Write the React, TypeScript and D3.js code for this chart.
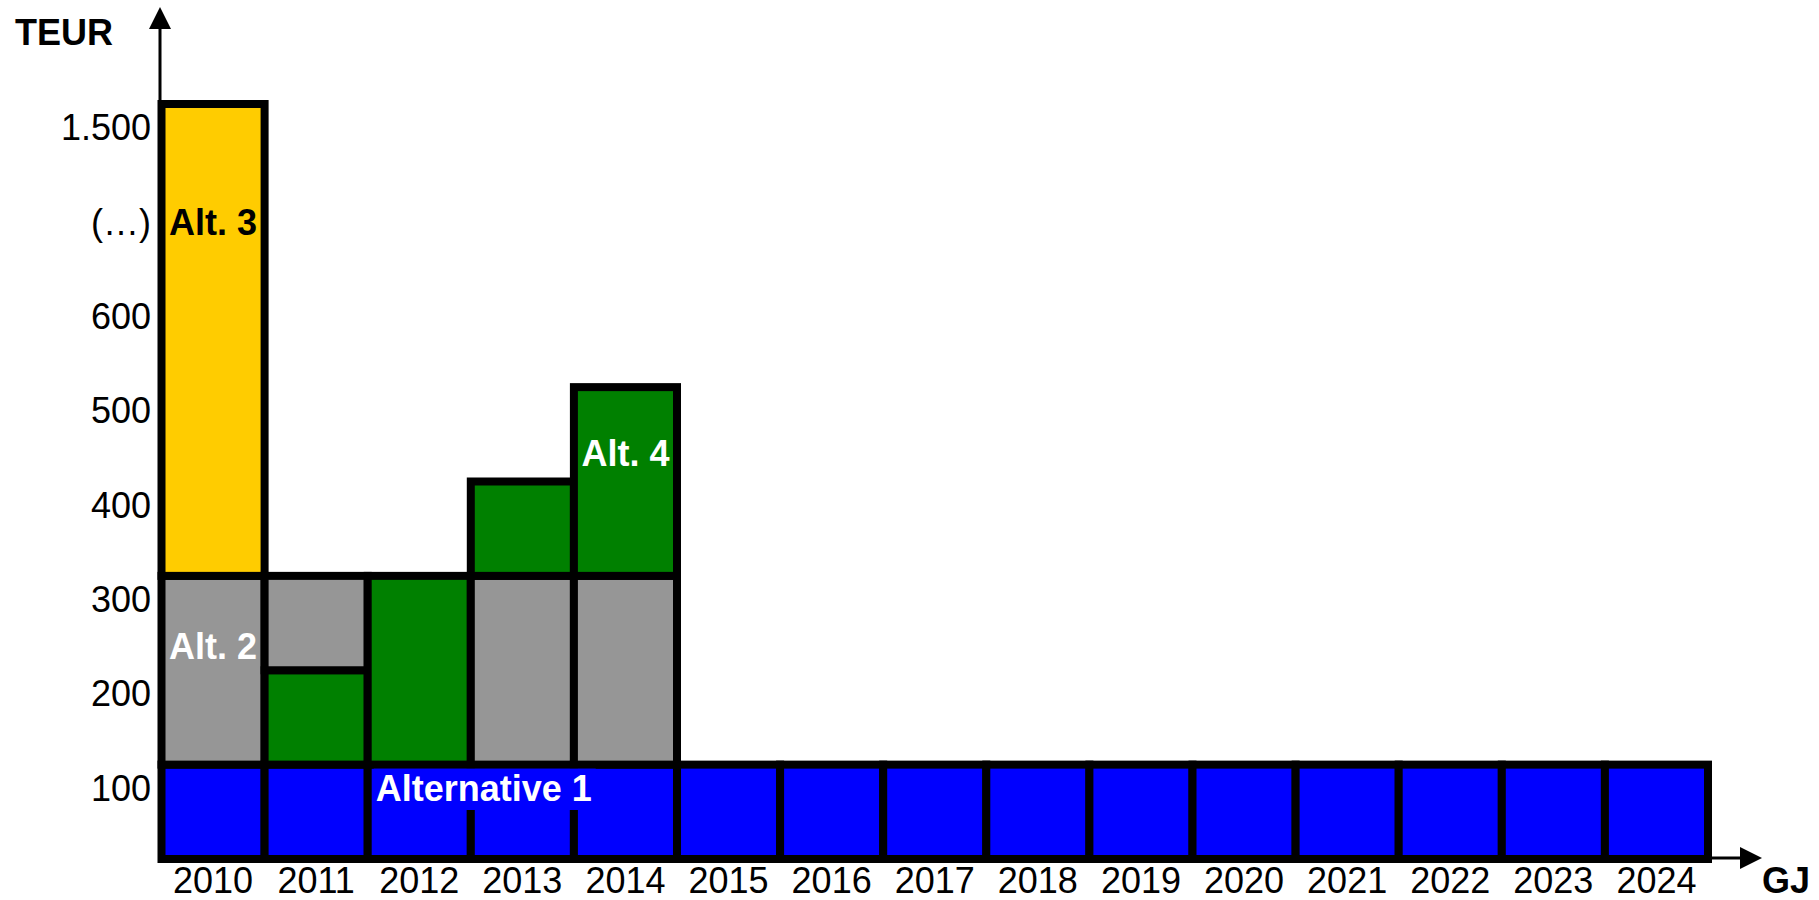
import React from "react";
import * as d3 from "d3";

// years on the x axis
const years = ["2010", "2011", "2012", "2013", "2014", "2015", "2016", "2017", "2018", "2019", "2020", "2021", "2022", "2023", "2024"];

// y axis is broken above 600, values are in axis units (ticks 100..800)
const tickLabels = ["100", "200", "300", "400", "500", "600", "(…)", "1.500"];
const tickValues = [100, 200, 300, 400, 500, 600, 700, 800];
const axisBase = 25;

const alt1 = [100, 100, 100, 100, 100, 100, 100, 100, 100, 100, 100, 100, 100, 100, 100];
const alt2 = [200, 100, 0, 200, 200, 0, 0, 0, 0, 0, 0, 0, 0, 0, 0];
const alt3 = [500, 0, 0, 0, 0, 0, 0, 0, 0, 0, 0, 0, 0, 0, 0];
const alt4 = [0, 100, 200, 100, 200, 0, 0, 0, 0, 0, 0, 0, 0, 0, 0];

// bottom -> top order of the blocks in each year
const stackOrder = [
  ["alt1", "alt2", "alt3"],
  ["alt1", "alt4", "alt2"],
  ["alt1", "alt4"],
  ["alt1", "alt2", "alt4"],
  ["alt1", "alt2", "alt4"],
  ["alt1"], ["alt1"], ["alt1"], ["alt1"], ["alt1"], ["alt1"], ["alt1"], ["alt1"], ["alt1"], ["alt1"],
];

const series: Record<string, number[]> = { alt1, alt2, alt3, alt4 };
const colors: Record<string, string> = {
  alt1: "#0000FF",
  alt2: "#969696",
  alt3: "#FFCC00",
  alt4: "#008000",
};

const font = "'Liberation Sans', Arial, Helvetica, sans-serif";

export default function App() {
  const width = 1819;
  const height = 900;

  const x = d3.scaleBand<string>().domain(years).range([161.5, 1708]).padding(0);
  const y = d3.scaleLinear().domain([axisBase, 825]).range([859, 104]);

  const segments: { year: string; key: string; y0: number; y1: number }[] = [];
  years.forEach((yr, i) => {
    let acc = axisBase;
    stackOrder[i].forEach((k) => {
      const v = series[k][i];
      if (v > 0) {
        segments.push({ year: yr, key: k, y0: acc, y1: acc + v });
        acc += v;
      }
    });
  });

  const bw = x.bandwidth();
  const fs = 36;
  const alt1X = (x("2012") as number) + 8;
  const alt1W = 6.0 * fs;

  return (
    <svg
      width={width}
      height={height}
      style={{ position: "absolute", left: 0, top: 0, background: "#fff" }}
      fontFamily={font}
    >
      {/* axes with arrows */}
      <line x1={160} x2={160} y1={859} y2={27} stroke="#000" strokeWidth={3} />
      <path d="M160,7 L149,29 L171,29 Z" fill="#000" />
      <line x1={160} x2={1742} y1={858} y2={858} stroke="#000" strokeWidth={3} />
      <path d="M1762,858 L1740,847 L1740,869 Z" fill="#000" />

      {/* blocks */}
      {segments.map((s, i) => (
        <rect
          key={i}
          x={x(s.year)}
          y={y(s.y1)}
          width={bw}
          height={y(s.y0) - y(s.y1)}
          fill={colors[s.key]}
          stroke="#000"
          strokeWidth={8}
        />
      ))}

      {/* y tick labels */}
      {tickValues.map((v, i) => (
        <text key={v} x={151} y={y(v)} dy="0.35em" textAnchor="end" fontSize={fs} fill="#000">
          {tickLabels[i]}
        </text>
      ))}

      {/* year labels */}
      {years.map((yr) => (
        <text key={yr} x={(x(yr) as number) + bw / 2} y={893} textAnchor="middle" fontSize={fs} fill="#000">
          {yr}
        </text>
      ))}

      <text x={15} y={45} fontSize={36} fontWeight="bold" fill="#000">TEUR</text>
      <text x={1762} y={893} fontSize={fs} fontWeight="bold" fill="#000">GJ</text>

      {/* series labels */}
      <text x={(x("2010") as number) + bw / 2} y={y(700)} dy="0.35em" textAnchor="middle" fontSize={fs} fontWeight="bold" fill="#000">
        Alt. 3
      </text>
      <text x={(x("2010") as number) + bw / 2} y={y(250)} dy="0.35em" textAnchor="middle" fontSize={fs} fontWeight="bold" fill="#fff">
        Alt. 2
      </text>
      <text x={(x("2014") as number) + bw / 2} y={y(455)} dy="0.35em" textAnchor="middle" fontSize={fs} fontWeight="bold" fill="#fff">
        Alt. 4
      </text>
      <rect x={alt1X - 2} y={y(125) + 4} width={alt1W + 6} height={810 - (y(125) + 4)} fill={colors.alt1} />
      <text x={alt1X} y={y(100)} dy="0.35em" fontSize={fs} fontWeight="bold" fill="#fff">
        Alternative 1
      </text>
    </svg>
  );
}
